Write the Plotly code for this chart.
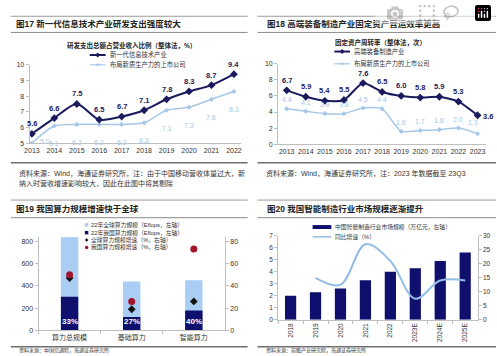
import plotly.graph_objects as go

W, H = 497, 356


def X(px):
    return px / W


def Y(py):
    return 1 - py / H


FONT = "Liberation Sans, Noto Sans CJK SC, sans-serif"
CJK = "Noto Sans CJK SC, sans-serif"
NAVY = "#1b1a5e"
NAVY_BAR = "#0f0f6e"
LIGHT = "#a7c7e7"
LIGHT_BAR = "#a9cdf3"
LINE20 = "#93bde4"
RED = "#a3142c"
TXT = "#333333"
AX = "#bfbfbf"

# ---------------- data ----------------
years17 = ["2013", "2014", "2015", "2016", "2017", "2018", "2019", "2020", "2021", "2022"]
it_rd = [5.6, 6.6, 7.5, 6.5, 6.7, 7.1, 7.8, 8.3, 8.7, 9.4]
listed_rd = [5.0, 6.1, 6.2, 6.2, 6.2, 6.3, 7.1, 7.3, 7.8, 8.3]

years18 = ["2013", "2014", "2015", "2016", "2017", "2018", "2019", "2020", "2021", "2022", "2023"]
equip_turn = [6.7, 5.9, 5.4, 5.5, 7.6, 6.5, 6.0, 5.8, 5.9, 5.3, 3.6]
listed_turn = [4.4, 4.1, 3.8, 3.8, 4.5, 4.4, 1.6, 1.7, 1.8, 2.0, 1.3]

cats19 = ["算力总规模", "基础算力", "智能算力"]
global_scale = [906, 440, 451]
china_scale = [302, 120, 178]
china_share = ["33%", "27%", "40%"]
global_growth = [47, 19, 26]
china_growth = [50, 26, 73]

years20 = ["2018", "2019", "2020", "2021", "2022", "2023E", "2024E", "2025E"]
market = [2.0, 2.3, 2.6, 3.3, 4.0, 4.3, 4.9, 5.6]
yoy = [None, 15, 12.5, 27, 21, 7.5, 14, 14]

fig = go.Figure()

# ---------------- panel 17 ----------------
fig.add_trace(go.Scatter(x=years17, y=listed_rd, xaxis="x", yaxis="y", mode="lines+markers",
                         line=dict(color=LIGHT, width=1.5, shape="spline", smoothing=0.8),
                         marker=dict(symbol="diamond", size=4, color=LIGHT)))
fig.add_trace(go.Scatter(x=years17, y=it_rd, xaxis="x", yaxis="y", mode="lines+markers",
                         line=dict(color=NAVY, width=2, shape="spline", smoothing=0.8),
                         marker=dict(symbol="diamond", size=6, color=NAVY)))

# ---------------- panel 18 ----------------
fig.add_trace(go.Scatter(x=years18, y=listed_turn, xaxis="x2", yaxis="y2", mode="lines+markers",
                         line=dict(color=LIGHT, width=1.5, shape="spline", smoothing=0.6),
                         marker=dict(symbol="diamond", size=4, color=LIGHT)))
fig.add_trace(go.Scatter(x=years18, y=equip_turn, xaxis="x2", yaxis="y2", mode="lines+markers",
                         line=dict(color=NAVY, width=2, shape="spline", smoothing=0.6),
                         marker=dict(symbol="diamond", size=6, color=NAVY)))

# ---------------- panel 19 ----------------
fig.add_trace(go.Bar(x=cats19, y=global_scale, xaxis="x3", yaxis="y3", width=0.28,
                     marker=dict(color=LIGHT_BAR, line=dict(width=0))))
fig.add_trace(go.Bar(x=cats19, y=china_scale, xaxis="x3", yaxis="y3", width=0.28,
                     marker=dict(color=NAVY_BAR, line=dict(width=0))))
fig.add_trace(go.Scatter(x=cats19, y=global_growth, xaxis="x3", yaxis="y4", mode="markers",
                         marker=dict(symbol="diamond", size=6, color="#111111")))
fig.add_trace(go.Scatter(x=cats19, y=china_growth, xaxis="x3", yaxis="y4", mode="markers",
                         marker=dict(symbol="circle", size=7, color=RED)))

# ---------------- panel 20 ----------------
fig.add_trace(go.Bar(x=years20, y=market, xaxis="x4", yaxis="y5", width=0.45,
                     marker=dict(color=NAVY_BAR, line=dict(width=0))))
fig.add_trace(go.Scatter(x=years20, y=yoy, xaxis="x4", yaxis="y6", mode="lines",
                         line=dict(color=LINE20, width=2, shape="spline", smoothing=1.0)))

ann = []
shapes = []

# data labels panel 17 (category index positions)
for i, v in enumerate(it_rd):
    ann.append(dict(x=i, y=v, xref="x", yref="y", text=f"<b>{v:.1f}</b>", showarrow=False,
                    yshift=10, font=dict(size=7.5, color=NAVY, family=FONT)))
for i, v in enumerate(listed_rd):
    if i == 0:
        ann.append(dict(x=i, y=v, xref="x", yref="y", text=f"{v:.1f}", showarrow=False,
                        xshift=13, yshift=2, font=dict(size=7, color=LIGHT, family=FONT)))
    else:
        ann.append(dict(x=i, y=v, xref="x", yref="y", text=f"{v:.1f}", showarrow=False,
                        yshift=-18, font=dict(size=7, color=LIGHT, family=FONT)))

# data labels panel 18
last = len(equip_turn) - 1
for i, v in enumerate(equip_turn):
    if i == last:
        ann.append(dict(x=i, y=v, xref="x2", yref="y2", text=f"<b>{v:.1f}</b>", showarrow=False,
                        xshift=10, yshift=-1, borderpad=0,
                        font=dict(size=7.5, color=NAVY, family=FONT)))
    else:
        ann.append(dict(x=i, y=v, xref="x2", yref="y2", text=f"<b>{v:.1f}</b>", showarrow=False,
                        yshift=10, font=dict(size=7.5, color=NAVY, family=FONT)))
for i, v in enumerate(listed_turn):
    ann.append(dict(x=i, y=v, xref="x2", yref="y2", text=f"{v:.1f}", showarrow=False,
                    xshift=(-5 if i == last else 0), yshift=(11 if i == last else 9), borderpad=0,
                    font=dict(size=7, color=LIGHT, family=FONT)))

# percent labels panel 19
for i, s in enumerate(china_share):
    ann.append(dict(x=i, y=0, xref="x3", yref="y3", text=f"<b>{s}</b>", showarrow=False,
                    yanchor="bottom", yshift=2, font=dict(size=8, color="white", family=FONT)))


def hline(x0, x1, y, color="#8c8c8c", width=1):
    shapes.append(dict(type="line", xref="paper", yref="paper", x0=X(x0), x1=X(x1),
                       y0=Y(y), y1=Y(y), line=dict(color=color, width=width)))


def diamond(cx, cy, r, color):
    p = f"M {X(cx - r)},{Y(cy)} L {X(cx)},{Y(cy - r)} L {X(cx + r)},{Y(cy)} L {X(cx)},{Y(cy + r)} Z"
    shapes.append(dict(type="path", xref="paper", yref="paper", path=p,
                       fillcolor=color, line=dict(color=color, width=0)))


def rect(x0, y0, x1, y1, color):
    shapes.append(dict(type="rect", xref="paper", yref="paper", x0=X(x0), x1=X(x1),
                       y0=Y(y1), y1=Y(y0), fillcolor=color, line=dict(width=0)))


def circle(cx, cy, r, color):
    shapes.append(dict(type="circle", xref="paper", yref="paper", x0=X(cx - r), x1=X(cx + r),
                       y0=Y(cy + r), y1=Y(cy - r), fillcolor=color, line=dict(width=0)))


def text(x, y, s, size=7, color=TXT, anchor="left", family=CJK):
    ann.append(dict(x=X(x), y=Y(y), xref="paper", yref="paper", text=s, showarrow=False,
                    xanchor=anchor, yanchor="middle", borderpad=0,
                    font=dict(size=size, color=color, family=family)))


# frame lines
for (a, b) in [(5, 245), (255, 497)]:
    hline(a, b, 12.5, "#9a9a9a", 1)
    hline(a, b, 29, "#8a8a8a", 1)
    hline(a, b, 162, "#6e6e6e", 1.5)
    hline(a, b, 200, "#9a9a9a", 1)
    hline(a, b, 218, "#8a8a8a", 1)
    hline(a, b, 349.5, "#6e6e6e", 1.5)

# titles
text(9, 20.5, "<b>图17 新一代信息技术产业研发支出强度较大</b>", 8.5, "#222", family=FONT)
text(264, 20.5, "<b>图18 高端装备制造产业固定资产营运效率更高</b>", 8.5, "#222", family=FONT)
text(9, 209.5, "<b>图19 我国算力规模增速快于全球</b>", 8.5, "#222", family=FONT)
text(264, 209.5, "<b>图20 我国智能制造行业市场规模逐渐提升</b>", 8.5, "#222", family=FONT)

# panel 17 subtitle + legend
text(127, 42, "<b>研发支出总额占营业收入比例（整体法，%）</b>", 6.5, "#222", anchor="center", family=FONT)
hline(85, 101, 52, NAVY, 2)
diamond(93, 52, 2.5, NAVY)
text(104, 52, "新一代信息技术产业", 6.3)
hline(85, 101, 62, LIGHT, 1.2)
diamond(93, 62, 1.8, LIGHT)
text(104, 62, "布局新质生产力的上市公司", 6.3)

# panel 18 subtitle + legend
text(380, 39, "<b>固定资产周转率（整体法，次）</b>", 6.5, "#222", anchor="center", family=FONT)
hline(333, 349, 48.5, NAVY, 2)
diamond(341, 48.5, 2.5, NAVY)
text(352, 48.5, "高端装备制造产业", 6.3)
hline(333, 349, 61, LIGHT, 1.2)
diamond(341, 61, 1.8, LIGHT)
text(352, 61, "布局新质生产力的上市公司", 6.3)

# sources
text(12, 173, "资料来源：Wind，海通证券研究所，注：由于中国移动营收体量过大，新", 7, family=FONT)
text(12, 183.5, "纳入时营收增速影响较大，因此在此图中将其剔除", 7, family=FONT)
text(263, 173, "资料来源：Wind，海通证券研究所，注：2023 年数据截至 23Q3", 7, family=FONT)
text(12, 353.2, "资料来源：中国信通院，海通证券研究所", 5, family=FONT)
text(263, 353.2, "资料来源：前瞻产业研究院，海通证券研究所", 5, family=FONT)

# panel 19 legend
rect(80, 223.5, 83.5, 227, LIGHT_BAR)
text(85, 225.3, "22年全球算力规模（Eflops，左轴）", 5.8, family=FONT)
rect(80, 231.5, 83.5, 235, NAVY_BAR)
text(85, 233.3, "22年我国算力规模（Eflops，左轴）", 5.8, family=FONT)
diamond(81.8, 240.7, 1.8, "#111111")
text(85, 240.7, "全球算力规模增速（%，右轴）", 5.8, family=FONT)
circle(81.8, 248.3, 1.8, RED)
text(85, 248.3, "我国算力规模增速（%，右轴）", 5.8, family=FONT)

# panel 20 legend
rect(311, 225.5, 330, 229.5, NAVY_BAR)
text(333, 227.3, "中国智能制造行业市场规模（万亿元，左轴）", 5.8, family=FONT)
hline(311, 330, 237.5, LINE20, 1.5)
text(333, 237.5, "同比增速（%）", 5.8, family=FONT)


def yax(domain, rng, anchor, dtick=None, tickvals=None, side="left", overlaying=None, size=7):
    d = dict(domain=domain, range=rng, anchor=anchor, side=side, showgrid=False, zeroline=False,
             showline=True, linecolor=AX, linewidth=1, ticks="outside", ticklen=3, tickcolor=AX,
             tickfont=dict(size=size, color=TXT, family=FONT), fixedrange=True)
    if dtick is not None:
        d["dtick"] = dtick
        d["tick0"] = 0
    if tickvals is not None:
        d["tickvals"] = tickvals
    if overlaying:
        d["overlaying"] = overlaying
    return d


def xax(domain, rng, anchor, size=7, ticks="", angle=0):
    d = dict(domain=domain, range=rng, anchor=anchor, type="category", showgrid=False,
             zeroline=False, showline=True, linecolor=AX, linewidth=1, ticks=ticks, ticklen=3,
             tickcolor=AX, tickangle=angle, tickfont=dict(size=size, color=TXT, family=FONT),
             fixedrange=True)
    if ticks:
        d["tickson"] = "boundaries"
    return d


fig.update_layout(
    width=W, height=H, margin=dict(l=0, r=0, t=0, b=0),
    paper_bgcolor="white", plot_bgcolor="rgba(0,0,0,0)",
    showlegend=False, barmode="overlay",
    font=dict(family=FONT, color=TXT),
    xaxis=xax([X(24), X(238)], [-0.1, 9.3], "y"),
    yaxis=yax([Y(142), Y(62)], [5, 10], "x", dtick=1),
    xaxis2=xax([X(276), X(487)], [-0.45, 10.45], "y2"),
    yaxis2=yax([Y(143), Y(61)], [0, 10], "x2", dtick=2),
    xaxis3=xax([X(33), X(222)], [-0.5, 2.5], "y3", ticks="outside"),
    yaxis3=yax([Y(333), Y(238)], [0, 835], "x3", tickvals=[0, 200, 400, 600, 800]),
    yaxis4=yax([Y(333), Y(238)], [0, 83.5], "x3", tickvals=[0, 20, 40, 60, 80], side="right",
               overlaying="y3"),
    xaxis4=xax([X(276), X(478.4)], [-0.5, 7.5], "y5", size=6.5, ticks="outside", angle=-90),
    yaxis5=yax([Y(322), Y(236.5)], [0, 7], "x4", dtick=1, size=6.5),
    yaxis6=yax([Y(322), Y(236.5)], [0, 30], "x4", dtick=5, side="right", overlaying="y5", size=6.5),
    annotations=ann,
    shapes=shapes,
)

fig.write_html("out.html",
               post_script="document.body.style.margin='0';document.body.style.overflow='hidden';")
